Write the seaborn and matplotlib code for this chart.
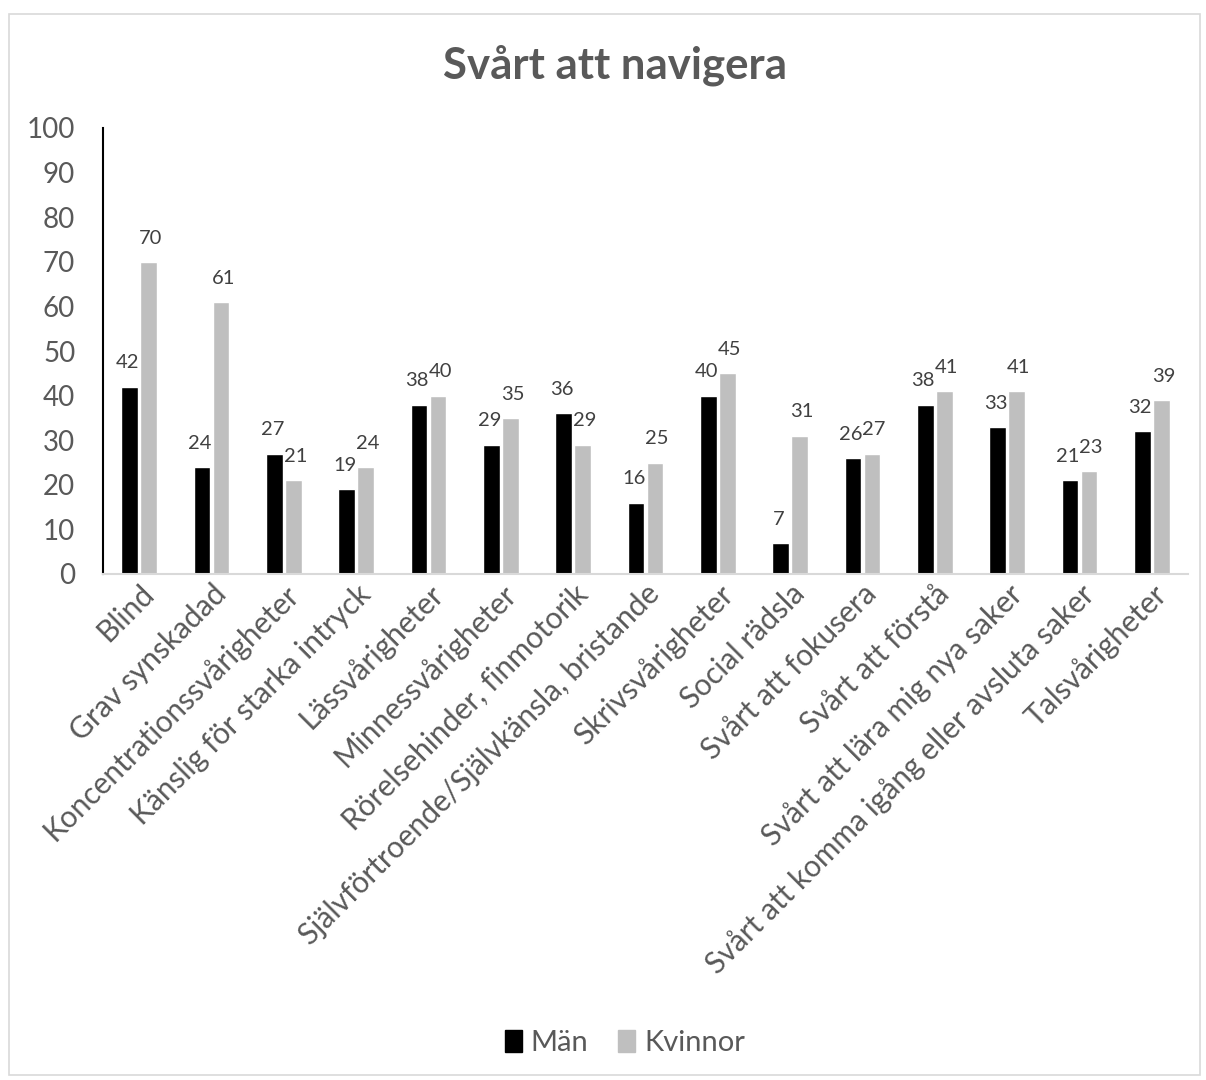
import matplotlib
matplotlib.use("Agg")
import matplotlib.pyplot as plt
import seaborn as sns
import pandas as pd
from matplotlib.patches import Rectangle, Patch

categories = ["Blind", "Grav synskadad", "Koncentrationssvårigheter",
              "Känslig för starka intryck", "Lässvårigheter", "Minnessvårigheter",
              "Rörelsehinder, finmotorik", "Självförtroende/Självkänsla, bristande",
              "Skrivsvårigheter", "Social rädsla", "Svårt att fokusera",
              "Svårt att förstå", "Svårt att lära mig nya saker",
              "Svårt att komma igång eller avsluta saker", "Talsvårigheter"]
man = [42, 24, 27, 19, 38, 29, 36, 16, 40, 7, 26, 38, 33, 21, 32]
kvinnor = [70, 61, 21, 24, 40, 35, 29, 25, 45, 31, 27, 41, 41, 23, 39]
series = ["Män", "Kvinnor"]
colors = ["#000000", "#BFBFBF"]
yticks = [0, 10, 20, 30, 40, 50, 60, 70, 80, 90, 100]

df = pd.DataFrame({
    "Kategori": categories * 2,
    "Värde": man + kvinnor,
    "Kön": [series[0]] * len(categories) + [series[1]] * len(categories),
})

sns.set_theme(style="white")
plt.rcParams['font.family'] = ['Lato', 'DejaVu Sans']
grey = "#595959"

fig = plt.figure(figsize=(12.06, 10.8), dpi=100)
fig.patches.append(Rectangle((9 / 1206, 5 / 1080), 1191 / 1206, 1061 / 1080,
                             transform=fig.transFigure, fill=False,
                             edgecolor="#D9D9D9", linewidth=1.2))
ax = fig.add_axes([103 / 1206, 1 - 574 / 1080, (1188 - 103) / 1206, (574 - 128) / 1080])

sns.barplot(data=df, x="Kategori", y="Värde", hue="Kön", hue_order=series,
            palette=colors, width=0.525, gap=0.13, ax=ax, legend=False,
            saturation=1, errorbar=None)

for cont, vals, dx in zip(ax.containers, [man, kvinnor], [-1.5, 1.5]):
    for bar, v in zip(cont, vals):
        ax.annotate(str(v), (bar.get_x() + bar.get_width() / 2, bar.get_height()),
                    xytext=(dx, 11), textcoords="offset points",
                    ha="center", va="bottom", fontsize=14.5, color="#404040")

ax.set_ylim(0, 100)
ax.set_xlim(-0.5, len(categories) - 0.5)
ax.set_yticks(yticks)
ax.set_yticklabels([str(t) for t in yticks], fontsize=20, color=grey)
ax.tick_params(axis="y", length=0, pad=20)
ax.tick_params(axis="x", length=0, pad=4)
ax.set_xticks(range(len(categories)))
ax.set_xticklabels(categories, rotation=45, ha="right", rotation_mode="anchor",
                   fontsize=21.5, color=grey)
ax.set_xlabel("")
ax.set_ylabel("")
for s in ["top", "right"]:
    ax.spines[s].set_visible(False)
ax.spines["left"].set_color("black")
ax.spines["left"].set_linewidth(1.5)
ax.spines["bottom"].set_color("#D9D9D9")
ax.spines["bottom"].set_linewidth(1.5)

fig.text(0.51, 1 - 65 / 1080, "Svårt att navigera", ha="center", va="center",
         fontsize=31.5, fontweight="bold", color=grey)

handles = [Patch(facecolor=c, edgecolor=c) for c in colors]
fig.legend(handles, series, loc="center", bbox_to_anchor=(0.518, 1 - 1043 / 1080),
           ncol=2, frameon=False, fontsize=21, handlelength=0.6, handleheight=0.75,
           handletextpad=0.3, columnspacing=1.0, labelcolor=grey)

fig.savefig("out.png", dpi=100)
